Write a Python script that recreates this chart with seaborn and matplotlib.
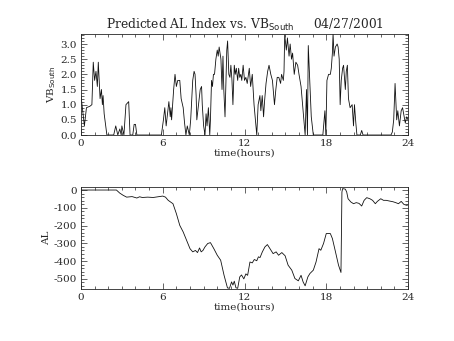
import numpy as np
import pandas as pd
import matplotlib
matplotlib.use("Agg")
import matplotlib.pyplot as plt
from matplotlib.ticker import MultipleLocator
import seaborn as sns

# VB_South (top panel)
vb_t = [0.0, 0.25, 0.4, 0.66, 0.8, 0.9, 1.0, 1.1, 1.2, 1.27, 1.4, 1.5, 1.57, 1.62, 1.7, 1.9,
        2.4, 2.55, 2.7, 2.85, 2.95, 3.0, 3.15, 3.3, 3.5, 3.6, 3.8, 3.9, 4.0, 4.1, 5.9,
        6.05, 6.15, 6.25, 6.45, 6.55, 6.6, 6.65, 6.8, 6.9, 7.0, 7.1, 7.25, 7.35, 7.5, 7.6, 7.7,
        7.8, 7.95, 8.05, 8.2, 8.3, 8.37, 8.45, 8.5, 8.6, 8.75, 8.85, 8.9, 9.0, 9.1, 9.18, 9.25,
        9.35, 9.45, 9.5, 9.58, 9.65, 9.72, 9.8, 9.9, 10.0, 10.07, 10.14, 10.27, 10.35, 10.42,
        10.48, 10.57, 10.7, 10.76, 10.85, 10.93, 11.0, 11.08, 11.15, 11.25, 11.32, 11.4, 11.5,
        11.57, 11.65, 11.73, 11.8, 11.9, 12.0, 12.1, 12.2, 12.35, 12.45, 12.57, 12.7, 12.9,
        13.0, 13.13, 13.2, 13.3, 13.4, 13.47, 13.58, 13.7, 13.8, 13.93, 14.05, 14.2, 14.3, 14.4,
        14.52, 14.65, 14.72, 14.85, 14.9, 14.95, 15.07, 15.15, 15.27, 15.35, 15.45, 15.53,
        15.65, 15.77, 15.9, 16.0, 16.15, 16.3, 16.45, 16.55, 16.62, 16.68, 16.75, 16.83, 16.9,
        17.05, 17.15, 17.3, 17.5, 17.75, 17.9, 17.97, 18.05, 18.17, 18.3, 18.37, 18.45, 18.5,
        18.57, 18.67, 18.8, 18.87, 18.95, 19.02, 19.1, 19.2, 19.27, 19.4, 19.47, 19.55, 19.63,
        19.75, 19.9, 20.0, 20.07, 20.17, 20.25, 20.5, 20.6, 20.7, 22.75, 22.85, 22.95, 23.05,
        23.17, 23.25, 23.37, 23.5, 23.6, 23.68, 23.8, 23.9, 24.0]
vb_v = [1.3, 0.3, 0.9, 0.95, 1.0, 2.4, 1.8, 2.1, 1.6, 2.4, 1.2, 1.5, 1.0, 1.3, 0.7, 0.0,
        0.0, 0.3, 0.0, 0.2, 0.0, 0.3, 0.0, 1.0, 1.1, 0.0, 0.0, 0.35, 0.35, 0.0, 0.0,
        0.5, 0.9, 0.3, 1.1, 0.6, 0.9, 0.5, 1.5, 2.0, 1.6, 1.8, 1.8, 1.2, 0.9, 0.4, 0.0,
        0.3, 0.0, 0.5, 1.8, 2.1, 2.0, 1.3, 0.5, 0.9, 1.5, 1.6, 1.0, 0.3, 0.0, 0.7, 0.3,
        0.9, 0.0, 0.5, 1.8, 1.6, 2.0, 2.0, 2.5, 2.8, 2.6, 2.9, 2.5, 1.5,
        2.6, 1.5, 0.6, 2.8, 3.1, 2.0, 1.9, 2.3, 1.8, 1.0, 2.3, 2.0, 2.2, 1.8,
        2.2, 1.9, 2.0, 1.8, 2.3, 1.8, 1.9, 1.7, 2.2, 1.6, 2.0, 1.0, 0.0,
        1.0, 1.3, 0.8, 1.3, 0.6, 1.1, 1.7, 2.1, 2.3, 2.0, 1.8, 1.0, 1.5, 1.9,
        1.9, 1.7, 2.0, 1.8, 2.1, 3.3, 2.8, 3.2, 2.6, 3.0, 2.5, 2.7,
        2.0, 2.4, 2.3, 2.0, 1.6, 0.8, 0.0, 1.5, 0.0, 2.95, 2.2, 1.3, 0.6,
        0.0, 0.0, 0.0, 0.0, 0.0, 0.8, 0.0, 1.8, 2.0, 2.0, 2.2, 2.7, 3.35,
        2.6, 2.9, 3.0, 2.9, 2.5, 1.0, 1.8, 2.2, 2.3, 1.5, 2.1, 2.3, 1.2,
        0.9, 1.0, 0.3, 1.0, 0.4, 0.0, 0.0, 0.15, 0.0, 0.0, 0.1, 0.5, 1.7,
        0.5, 0.8, 0.3, 0.8, 0.9, 0.7, 0.4, 0.6, 0.5]

# AL index (bottom panel)
al_t = [0.0, 2.6, 2.84, 3.1, 3.35, 3.75, 4.1, 4.3, 4.5, 4.9, 5.3, 5.65, 6.0, 6.2, 6.4, 6.75,
        7.0, 7.25, 7.5, 7.75, 8.0, 8.2, 8.4, 8.55, 8.7, 8.82, 8.95, 9.1, 9.3, 9.5, 9.75,
        10.0, 10.25, 10.5, 10.75, 10.9, 11.05, 11.15, 11.25, 11.37, 11.5, 11.65, 11.78,
        11.95, 12.1, 12.23, 12.4, 12.57, 12.72, 12.9, 13.02, 13.14, 13.31, 13.5, 13.68,
        13.87, 14.1, 14.32, 14.5, 14.74, 14.98, 15.2, 15.47, 15.7, 15.95, 16.15, 16.3,
        16.45, 16.65, 16.8, 17.05, 17.25, 17.47, 17.6, 17.8, 18.0, 18.3, 18.45, 18.65,
        18.9, 19.08, 19.15, 19.2, 19.4, 19.5, 19.6, 19.8, 20.0, 20.2, 20.4, 20.6, 20.78,
        20.97, 21.2, 21.4, 21.6, 21.75, 22.0, 22.2, 22.4, 22.64, 22.9, 23.1, 23.3, 23.5,
        23.7, 23.9, 24.0]
al_v = [0, 0, -17, -30, -40, -37, -45, -38, -42, -40, -42, -38, -34, -40, -58, -77,
        -133, -199, -236, -283, -330, -348, -340, -352, -326, -348, -340, -320, -301, -296, -330,
        -367, -395, -480, -551, -553, -517, -535, -513, -550, -553, -489, -478,
        -500, -472, -480, -405, -410, -391, -398, -376, -380, -348, -320, -307,
        -330, -358, -348, -367, -352, -370, -423, -451, -498, -511, -480, -517,
        -539, -489, -470, -451, -405, -330, -339, -301, -245, -245, -273, -339,
        -423, -464, -11, 8, 5, -11, -49, -67, -77, -71, -75, -90, -58,
        -43, -49, -58, -77, -64, -49, -58, -58, -62, -66, -71, -77, -64,
        -81, -86, -84]

vb_df = pd.DataFrame({"t": vb_t, "v": vb_v})
al_df = pd.DataFrame({"t": al_t, "v": al_v})

sns.set_style("ticks")
plt.rcParams['font.family'] = ['DejaVu Serif']
plt.rcParams['font.size'] = 7.5
plt.rcParams['axes.unicode_minus'] = False

fig = plt.figure(figsize=(4.54, 3.41), dpi=100)
ax1 = fig.add_axes([0.1784, 0.6041, 0.7203, 0.2962])
ax2 = fig.add_axes([0.1784, 0.1525, 0.7203, 0.2991])

sns.lineplot(data=vb_df, x="t", y="v", ax=ax1, color="#111111", linewidth=0.6, sort=False)
sns.lineplot(data=al_df, x="t", y="v", ax=ax2, color="#111111", linewidth=0.6, sort=False)

for ax in (ax1, ax2):
    ax.set_xlim(0, 24)
    ax.xaxis.set_major_locator(MultipleLocator(6))
    ax.xaxis.set_minor_locator(MultipleLocator(1))
    ax.tick_params(which="both", direction="in", top=True, right=True, width=0.5,
                   labelsize=7.5, pad=3)
    ax.tick_params(which="major", length=4)
    ax.tick_params(which="minor", length=2)
    for s in ax.spines.values():
        s.set_linewidth(0.6)
        s.set_visible(True)
    ax.set_xlabel("time(hours)", fontsize=7.5, labelpad=0)

ax1.set_ylim(0, 3.33)
ax1.yaxis.set_major_locator(MultipleLocator(0.5))
ax1.yaxis.set_minor_locator(MultipleLocator(0.1))
ax1.yaxis.set_major_formatter(matplotlib.ticker.FormatStrFormatter("%.1f"))
ax1.set_ylabel("VB$_{\\rm South}$", fontsize=7.5, labelpad=2)
ax1.set_title("Predicted AL Index vs. VB$_{\\rm South}$     04/27/2001", fontsize=8.8, pad=4)

ax2.set_ylim(-557, 17)
ax2.yaxis.set_major_locator(MultipleLocator(100))
ax2.yaxis.set_minor_locator(MultipleLocator(20))
ax2.set_ylabel("AL", fontsize=7.5, labelpad=2)

fig.savefig("out.png", dpi=100)
